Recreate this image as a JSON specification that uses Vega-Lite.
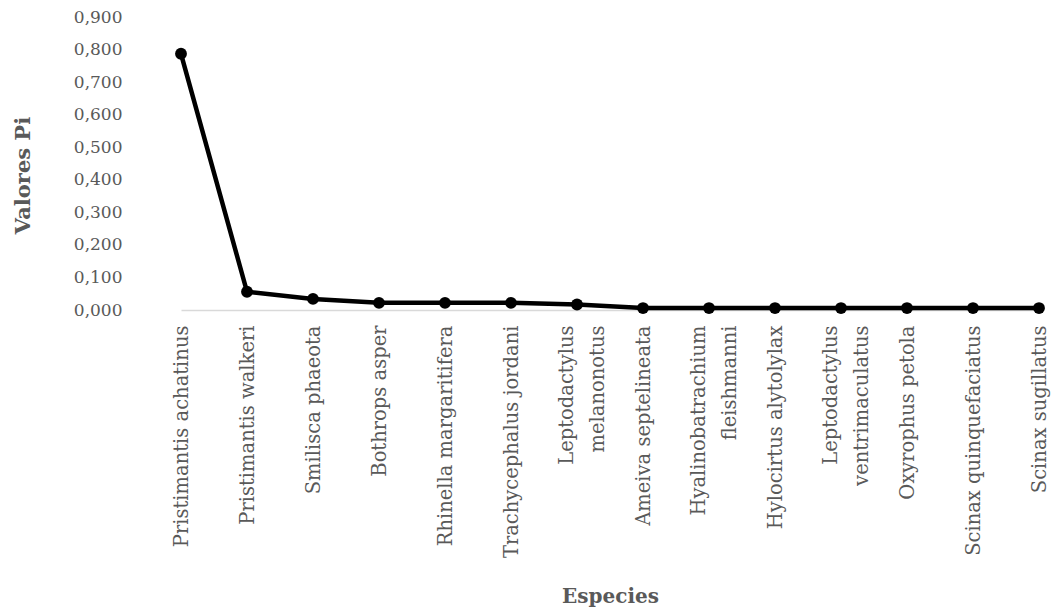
{
  "$schema": "https://vega.github.io/schema/vega-lite/v6.json",
  "autosize": "none",
  "padding": {"left": 148, "top": 17, "right": 0, "bottom": 301},
  "width": 914,
  "height": 293,
  "background": "white",
  "config": {
    "view": {"stroke": null},
    "font": "DejaVu Serif"
  },
  "data": {
    "values": [
      {"especie": "Pristimantis achatinus", "pi": 0.787},
      {"especie": "Pristimantis walkeri", "pi": 0.056},
      {"especie": "Smilisca phaeota", "pi": 0.034},
      {"especie": "Bothrops asper", "pi": 0.022},
      {"especie": "Rhinella margaritifera", "pi": 0.022},
      {"especie": "Trachycephalus jordani", "pi": 0.022},
      {"especie": "Leptodactylus melanonotus", "pi": 0.017},
      {"especie": "Ameiva septelineata", "pi": 0.006},
      {"especie": "Hyalinobatrachium fleishmanni", "pi": 0.006},
      {"especie": "Hylocirtus alytolylax", "pi": 0.006},
      {"especie": "Leptodactylus ventrimaculatus", "pi": 0.006},
      {"especie": "Oxyrophus petola", "pi": 0.006},
      {"especie": "Scinax quinquefaciatus", "pi": 0.006},
      {"especie": "Scinax sugillatus", "pi": 0.006}
    ]
  },
  "mark": {
    "type": "line",
    "color": "black",
    "strokeWidth": 4.5,
    "point": {"filled": true, "color": "black", "size": 140, "opacity": 1}
  },
  "encoding": {
    "x": {
      "field": "especie",
      "type": "nominal",
      "sort": null,
      "scale": {"type": "point", "range": [33, 891], "padding": 0},
      "axis": {
        "title": "Especies",
        "titleFont": "DejaVu Serif",
        "titleFontSize": 20,
        "titleFontWeight": "bold",
        "titleColor": "#595959",
        "titleX": 462,
        "titleY": 292,
        "titleBaseline": "alphabetic",
        "labelAngle": -90,
        "labelAlign": "right",
        "labelBaseline": "middle",
        "labelFontSize": 19.5,
        "labelColor": "#595959",
        "labelPadding": 15,
        "labelLimit": 0,
        "labelOverlap": false,
        "labelLineHeight": 31,
        "labelOffset": {"condition": {"test": "length(datum.value) > 23", "value": -11}, "value": 0},
        "labelExpr": "length(datum.label) > 23 ? split(datum.label, ' ') : datum.label",
        "ticks": false,
        "domain": false
      }
    },
    "y": {
      "field": "pi",
      "type": "quantitative",
      "scale": {"domain": [0, 0.9], "nice": false},
      "axis": {
        "title": "Valores Pi",
        "titleFont": "DejaVu Serif",
        "titleFontSize": 21,
        "titleFontWeight": "bold",
        "titleColor": "#595959",
        "titleX": -119,
        "titleY": 158,
        "titleBaseline": "alphabetic",
        "values": [0, 0.1, 0.2, 0.3, 0.4, 0.5, 0.6, 0.7, 0.8, 0.9],
        "labelExpr": "replace(format(datum.value, '.3f'), '.', ',')",
        "labelFontSize": 17,
        "labelColor": "#595959",
        "labelPadding": 26,
        "labelOverlap": false,
        "labelFlush": false,
        "ticks": false,
        "domain": false,
        "grid": true,
        "gridWidth": 1.3,
        "gridColor": {"condition": {"test": "datum.value === 0", "value": "#d9d9d9"}, "value": "transparent"}
      }
    }
  }
}
